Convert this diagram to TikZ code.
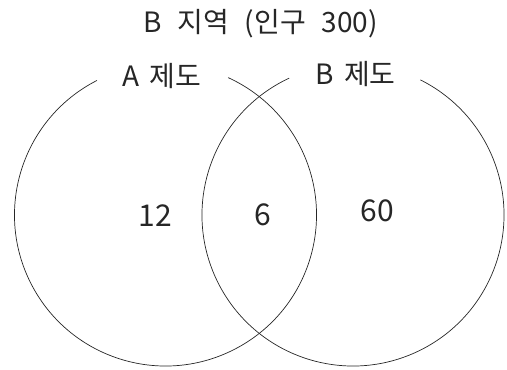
\documentclass[tikz,border=0pt]{standalone}
\usepackage{fontspec}
\newfontfamily\kr{Noto Sans CJK KR}
\newcommand{\wsp}{\hspace{16pt}}
\newcommand{\lsp}{\hspace{10pt}}
\begin{document}
\begin{tikzpicture}[x=1pt,y=1pt,
  txt/.style={inner sep=0pt, anchor=base, font=\kr\fontsize{28}{30}\selectfont, text=black!85},
  num/.style={inner sep=0pt, anchor=base, font=\kr\fontsize{30}{32}\selectfont, text=black!85},
  ring/.style={line width=0.7pt, draw=black!85}]
\useasboundingbox (0,0) rectangle (507,370);
\coordinate (cl) at (165.5,155);
\coordinate (cr) at (353,155);
\draw[ring] ([shift={(117:151)}]cl) arc[start angle=117, end angle=425.5, radius=151];
\draw[ring] ([shift={(115:151)}]cr) arc[start angle=115, end angle=423.5, radius=151];
\node[txt] (title) at (260.5,337.7) {B\wsp 지역\wsp(인구\wsp 300)};
\node[txt] (la) at (162.2,283.3) {A\lsp 제도};
\node[txt] (lb) at (355.8,285.7) {B\lsp 제도};
\node[num] (n1) at (155.3,143.3) {12};
\node[num] (n2) at (262.5,144.7) {6};
\node[num] (n3) at (377.5,148) {60};
\end{tikzpicture}
\end{document}
